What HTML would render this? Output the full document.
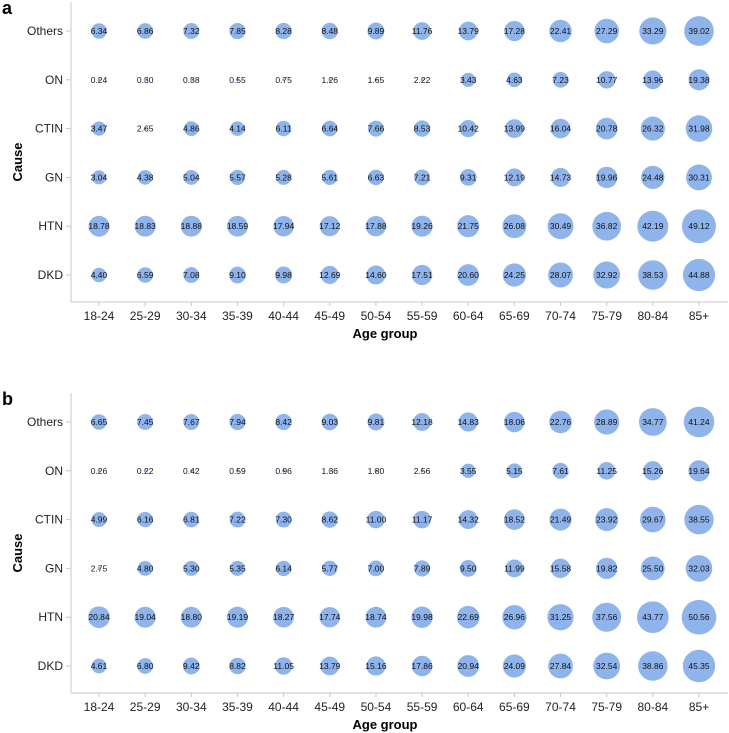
<!DOCTYPE html>
<html><head><meta charset="utf-8">
<style>
body{margin:0;background:#fff;}
svg{display:block;font-family:"Liberation Sans","DejaVu Sans",sans-serif;}
</style></head>
<body>
<svg id="chart" width="729" height="733" viewBox="0 0 729 733" xmlns="http://www.w3.org/2000/svg"></svg>
<script>
const ageGroups = ["18-24","25-29","30-34","35-39","40-44","45-49","50-54","55-59","60-64","65-69","70-74","75-79","80-84","85+"];
const causes = ["Others","ON","CTIN","GN","HTN","DKD"];
const panelLabels = ["a","b"];
const aOthers = [6.34,6.86,7.32,7.85,8.28,8.48,9.89,11.76,13.79,17.28,22.41,27.29,33.29,39.02];
const aON = [0.24,0.30,0.38,0.55,0.75,1.26,1.65,2.22,3.43,4.63,7.23,10.77,13.96,19.38];
const aCTIN = [3.47,2.65,4.86,4.14,6.11,6.64,7.66,8.53,10.42,13.99,16.04,20.78,26.32,31.98];
const aGN = [3.04,4.38,5.04,5.57,5.28,5.61,6.63,7.21,9.31,12.19,14.73,19.96,24.48,30.31];
const aHTN = [18.78,18.83,18.88,18.59,17.94,17.12,17.88,19.26,21.75,26.08,30.49,36.82,42.19,49.12];
const aDKD = [4.40,6.59,7.08,9.10,9.98,12.69,14.60,17.51,20.60,24.25,28.07,32.92,38.53,44.88];
const bOthers = [6.65,7.45,7.67,7.94,8.42,9.03,9.81,12.18,14.83,18.06,22.76,28.89,34.77,41.24];
const bON = [0.26,0.22,0.42,0.59,0.96,1.36,1.80,2.56,3.55,5.15,7.61,11.25,15.26,19.64];
const bCTIN = [4.99,6.16,6.81,7.22,7.30,8.62,11.00,11.17,14.32,18.52,21.49,23.92,29.67,38.55];
const bGN = [2.75,4.80,5.30,5.35,6.14,5.77,7.00,7.89,9.50,11.99,15.58,19.82,25.50,32.03];
const bHTN = [20.84,19.04,18.80,19.19,18.27,17.74,18.74,19.98,22.69,26.96,31.25,37.56,43.77,50.56];
const bDKD = [4.61,6.80,9.42,8.82,11.05,13.79,15.16,17.86,20.94,24.09,27.84,32.54,38.86,45.35];
const panelSeries = [[aOthers,aON,aCTIN,aGN,aHTN,aDKD],[bOthers,bON,bCTIN,bGN,bHTN,bDKD]];

const NS="http://www.w3.org/2000/svg";
const svg=document.getElementById('chart');
function mk(tag,attrs,parent){const e=document.createElementNS(NS,tag);for(const k in attrs)e.setAttribute(k,attrs[k]);(parent||svg).appendChild(e);return e;}
const xScale=i=>99+i*(600/13);
const rScale=v=>v<3?1.5:6.35+0.217*v;

panelSeries.forEach((series,p)=>{
  const off=p===0?0:391;
  const yScale=j=>31+off+j*48.8;
  const g=mk('g',{});
  
  
  const pl=mk('text',{x:2,y:(p===0?14:405),'font-size':18,'font-weight':'bold',fill:'#000'},g);
  pl.textContent=panelLabels[p];
  
  
  const axisY=302+off, top=(p===0?2:393);
  const ya=mk('line',{x1:71,y1:top,x2:71,y2:axisY,stroke:'#d0d0d0','stroke-width':1.2},g);
  
  
  const xa=mk('line',{x1:71,y1:axisY,x2:728,y2:axisY,stroke:'#d0d0d0','stroke-width':1.2},g);
  
  
  causes.forEach((c,j)=>{
    const y=yScale(j);
    mk('line',{x1:66,y1:y,x2:71,y2:y,stroke:'#c8c8c8'},g);
    const t=mk('text',{x:63,y:y+4,'text-anchor':'end','font-size':12,fill:'#222'},g);
    t.textContent=c;
    
    
  });
  ageGroups.forEach((a,i)=>{
    const x=xScale(i);
    mk('line',{x1:x,y1:axisY,x2:x,y2:axisY+4,stroke:'#c8c8c8'},g);
    const t=mk('text',{x:x,y:axisY+18,'text-anchor':'middle','font-size':12,fill:'#222'},g);
    t.textContent=a;
    
    
  });
  const xt=mk('text',{x:385,y:axisY+36,'text-anchor':'middle','font-size':13,'font-weight':'bold',fill:'#000'},g);
  xt.textContent='Age group';
  
  
  const cy=(top+axisY)/2+10;
  const yt=mk('text',{x:0,y:0,transform:`translate(22,${cy}) rotate(-90)`,'text-anchor':'middle','font-size':13,'font-weight':'bold',fill:'#000'},g);
  yt.textContent='Cause';
  
  
  series.forEach((vals,j)=>{
    vals.forEach((v,i)=>{
      const c=mk('circle',{cx:xScale(i),cy:yScale(j),r:rScale(v),fill:'#8fb4ec'},g);
      
      
      const t=mk('text',{x:xScale(i),y:yScale(j)+3,'text-anchor':'middle','font-size':8.5,fill:'#111'},g);
      t.textContent=v.toFixed(2);
      
      
    });
  });
});
</script>
</body></html>
